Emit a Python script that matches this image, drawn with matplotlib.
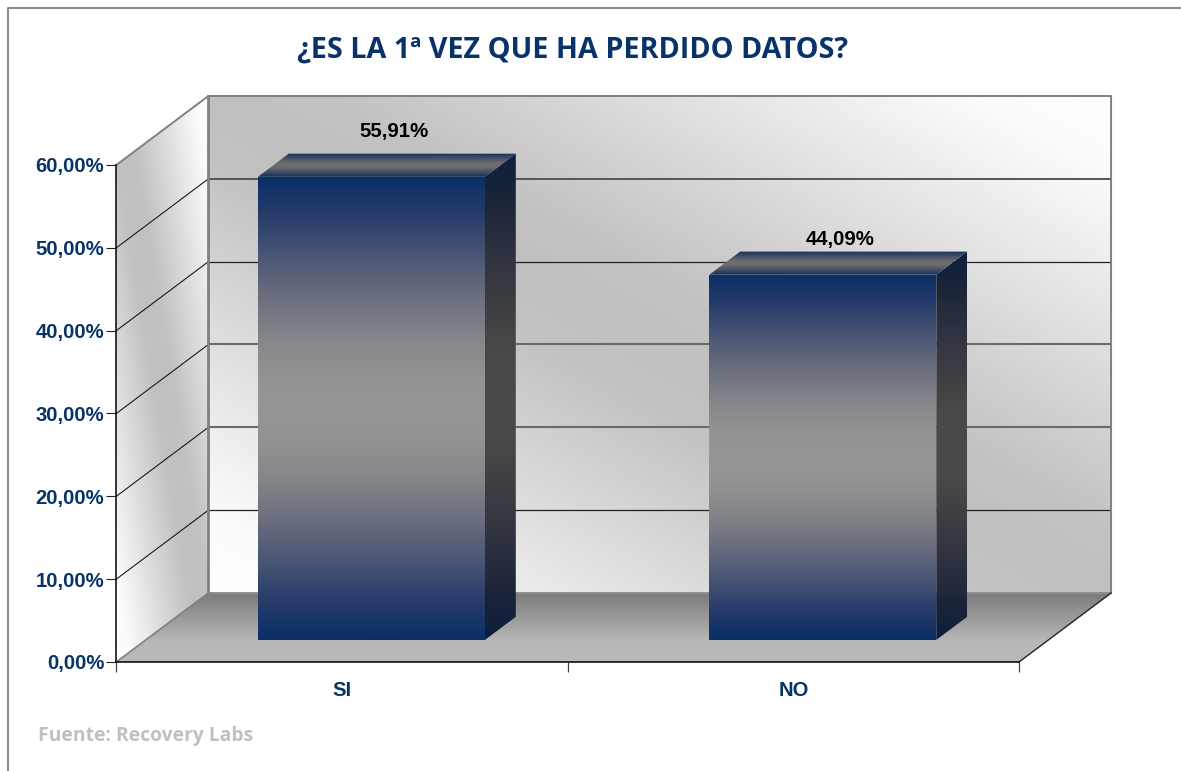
#!/usr/bin/env python3
import numpy as np
import matplotlib
matplotlib.use('Agg')
import matplotlib.pyplot as plt
from matplotlib.colors import LinearSegmentedColormap
from matplotlib.lines import Line2D
from matplotlib.patches import Polygon

# Chart data
categories = ['SI', 'NO']
values = [55.91, 44.09]
y_ticks = [0, 10, 20, 30, 40, 50, 60]

title = '¿ES LA 1ª VEZ QUE HA PERDIDO DATOS?'
source = 'Fuente: Recovery Labs'

# Look of the 3D box
W, H = 1181, 771
DEPTH_X = 92 / 451    # wall depth in category units
DEPTH_Y = 69 / 497 * 60    # wall depth in percent units
BAR_WIDTH = 0.503
BAR_NEAR = 0.32    # bar front/back as a fraction of the depth
BAR_FAR = 0.655
NAVY = '#0a3066'
TEXT_BLUE = '#063468'
EDGE_GREY = '#808080'
grid_colors = {10: '#222222', 20: '#6a6a6a', 30: '#6a6a6a', 40: '#222222', 50: '#555555'}
grid_widths = {10: 0.9, 20: 1.5, 30: 1.5, 40: 0.9, 50: 1.4}
label_offsets = [(7, 22), (2, 12)]  # px from the back of the bar top


def mirrored(name, stops):
    # same colours going down and coming back up
    full = stops + [(1 - p, c) for p, c in reversed(stops[:-1])]
    return LinearSegmentedColormap.from_list(name, full)


wall_cmap = LinearSegmentedColormap.from_list('wall', [(0, '#c0c0c0'), (0.12, '#c2c2c2'), (0.3, '#d0d0d0'),
                                                       (0.85, '#fcfcfc'), (1, '#ffffff')])
floor_cmap = LinearSegmentedColormap.from_list('floor', [(0, '#bababa'), (0.3, '#b8b8b8'), (1, '#7b7b7b')])
front_cmap = mirrored('front', [(0, NAVY), (0.07, '#23396a'), (0.13, '#3a4a70'), (0.2, '#565e78'), (0.27, '#6e727f'),
                                (0.35, '#858689'), (0.43, '#939393'), (0.5, '#969696')])
side_cmap = mirrored('side', [(0, '#0c1e3e'), (0.1, '#1c2538'), (0.2, '#2e3240'), (0.3, '#3c3d42'),
                              (0.4, '#484848'), (0.5, '#4a4a4a')])
top_cmap = mirrored('top', [(0, '#14305c'), (0.25, '#4c5468'), (0.42, '#6c6c6c'), (0.5, '#6e6e6e')])

fig = plt.figure(figsize=(W / 100, H / 100), dpi=100, facecolor='white')
ax = fig.add_axes([116.3 / W, (H - 662) / H, 902.7 / W, 497 / H])
ax.set_xlim(0, 2)
ax.set_ylim(0, 60)


def fill_gradient(verts, img, cmap, zorder, vmin=0, vmax=1):
    # paint an image over the bounding box of verts and clip it to the polygon
    xs = [v[0] for v in verts]
    ys = [v[1] for v in verts]
    im = ax.imshow(img, cmap=cmap, vmin=vmin, vmax=vmax, origin='lower', aspect='auto',
                   extent=[min(xs), max(xs), min(ys), max(ys)], interpolation='bilinear', zorder=zorder)
    im.set_clip_box(fig.bbox)
    im.set_clip_path(Polygon(verts, transform=ax.transData))
    return im


def diagonal(n=200):
    # white on one diagonal corner pair, grey across the middle
    u, v = np.meshgrid(np.linspace(0, 1, n), np.linspace(0, 1, n))
    return np.abs(u + v - 1)


def vertical(n=256):
    return np.linspace(0, 1, n).reshape(-1, 1)


top_val = y_ticks[-1]

# Back wall, side wall and floor
fill_gradient([(DEPTH_X, DEPTH_Y), (2 + DEPTH_X, DEPTH_Y), (2 + DEPTH_X, top_val + DEPTH_Y), (DEPTH_X, top_val + DEPTH_Y)],
              diagonal(), wall_cmap, 1)
fill_gradient([(0, 0), (DEPTH_X, DEPTH_Y), (DEPTH_X, top_val + DEPTH_Y), (0, top_val)],
              diagonal(), wall_cmap, 1)
fill_gradient([(0, 0), (2, 0), (2 + DEPTH_X, DEPTH_Y), (DEPTH_X, DEPTH_Y)],
              vertical(), floor_cmap, 1)

# Gridlines run along the side wall and the back wall
for t in y_ticks[1:-1]:
    ax.plot([0, DEPTH_X], [t, t + DEPTH_Y], color='#1a1a1a', lw=0.8, zorder=2, clip_on=False)
    ax.plot([DEPTH_X, 2 + DEPTH_X], [t + DEPTH_Y, t + DEPTH_Y], color=grid_colors[t], lw=grid_widths[t],
            zorder=2, clip_on=False, solid_capstyle='butt')

# Box edges
ax.plot([0, DEPTH_X, 2 + DEPTH_X, 2 + DEPTH_X], [top_val, top_val + DEPTH_Y, top_val + DEPTH_Y, DEPTH_Y],
        color=EDGE_GREY, lw=1.4, zorder=2, clip_on=False)
ax.plot([DEPTH_X, DEPTH_X], [DEPTH_Y, top_val + DEPTH_Y], color=EDGE_GREY, lw=2, zorder=2, clip_on=False)
ax.plot([DEPTH_X, 2 + DEPTH_X], [DEPTH_Y, DEPTH_Y], color='#8f8f8f', lw=1.4, zorder=2, clip_on=False)
ax.plot([0, DEPTH_X], [0, DEPTH_Y], color=EDGE_GREY, lw=1.2, zorder=2, clip_on=False)
ax.plot([2, 2 + DEPTH_X], [0, DEPTH_Y], color='#222222', lw=1, zorder=2, clip_on=False)

# Bars
for i, (val, off) in enumerate(zip(values, label_offsets)):
    x0 = i + 0.5 - BAR_WIDTH / 2 + BAR_NEAR * DEPTH_X
    x1 = x0 + BAR_WIDTH
    y0 = BAR_NEAR * DEPTH_Y
    y1 = y0 + val
    dx = (BAR_FAR - BAR_NEAR) * DEPTH_X
    dy = (BAR_FAR - BAR_NEAR) * DEPTH_Y
    fill_gradient([(x0, y0), (x1, y0), (x1, y1), (x0, y1)], vertical(), front_cmap, 3)
    fill_gradient([(x1, y0), (x1 + dx, y0 + dy), (x1 + dx, y1 + dy), (x1, y1)], vertical(), side_cmap, 3)
    fill_gradient([(x0, y1), (x1, y1), (x1 + dx, y1 + dy), (x0 + dx, y1 + dy)], vertical(), top_cmap, 3)
    ax.annotate(f'{val:.2f}%'.replace('.', ','), xy=((x0 + x1 + dx) / 2, y1 + dy),
                xytext=(off[0] * 0.72, off[1] * 0.72), textcoords='offset points',
                ha='center', va='center', fontsize=14.7, fontweight='bold',
                family='Liberation Sans', color='black', zorder=5, annotation_clip=False)

# imshow resets the limits
ax.set_xlim(0, 2)
ax.set_ylim(0, 60)
ax.set_aspect('auto')
ax.patch.set_visible(False)

# Axes
for side in ('top', 'right'):
    ax.spines[side].set_visible(False)
for side in ('left', 'bottom'):
    ax.spines[side].set_color('black')
    ax.spines[side].set_linewidth(1.1)
    ax.spines[side].set_zorder(4)

ax.set_yticks(y_ticks)
ax.set_yticklabels([f'{t:.2f}%'.replace('.', ',') for t in y_ticks],
                   fontsize=14.6, fontweight='bold', family='Liberation Sans', color=TEXT_BLUE)
ax.tick_params(axis='y', length=7.2, width=0.8, pad=1.5, color='#222222')
ax.set_xticks([0, 1, 2])
ax.set_xticklabels([])
ax.tick_params(axis='x', which='major', length=7.2, width=0.9, color='#444444')
ax.set_xticks([0.5, 1.5], labels=categories, minor=True)
ax.tick_params(axis='x', which='minor', length=0, pad=14)
for lab in ax.get_xticklabels(minor=True):
    lab.set_fontsize(14.6)
    lab.set_fontweight('bold')
    lab.set_family('Liberation Sans')
    lab.set_color(TEXT_BLUE)

# Title, source and outer frame
fig.text(572.5 / W, 1 - 50 / H, title, ha='center', va='center', fontsize=20.7, fontweight='bold',
         family='Open Sans', color='#07326a')
fig.text(38 / W, 1 - 736 / H, source, ha='left', va='center', fontsize=13.9, fontweight='bold',
         family='Open Sans', color='#c0c0c0')
fig.add_artist(Line2D([7.5 / W, 7.5 / W, 1], [0, 1 - 7.5 / H, 1 - 7.5 / H], color='#8c8c8c', lw=1.5))

fig.savefig('out.png', dpi=100)
